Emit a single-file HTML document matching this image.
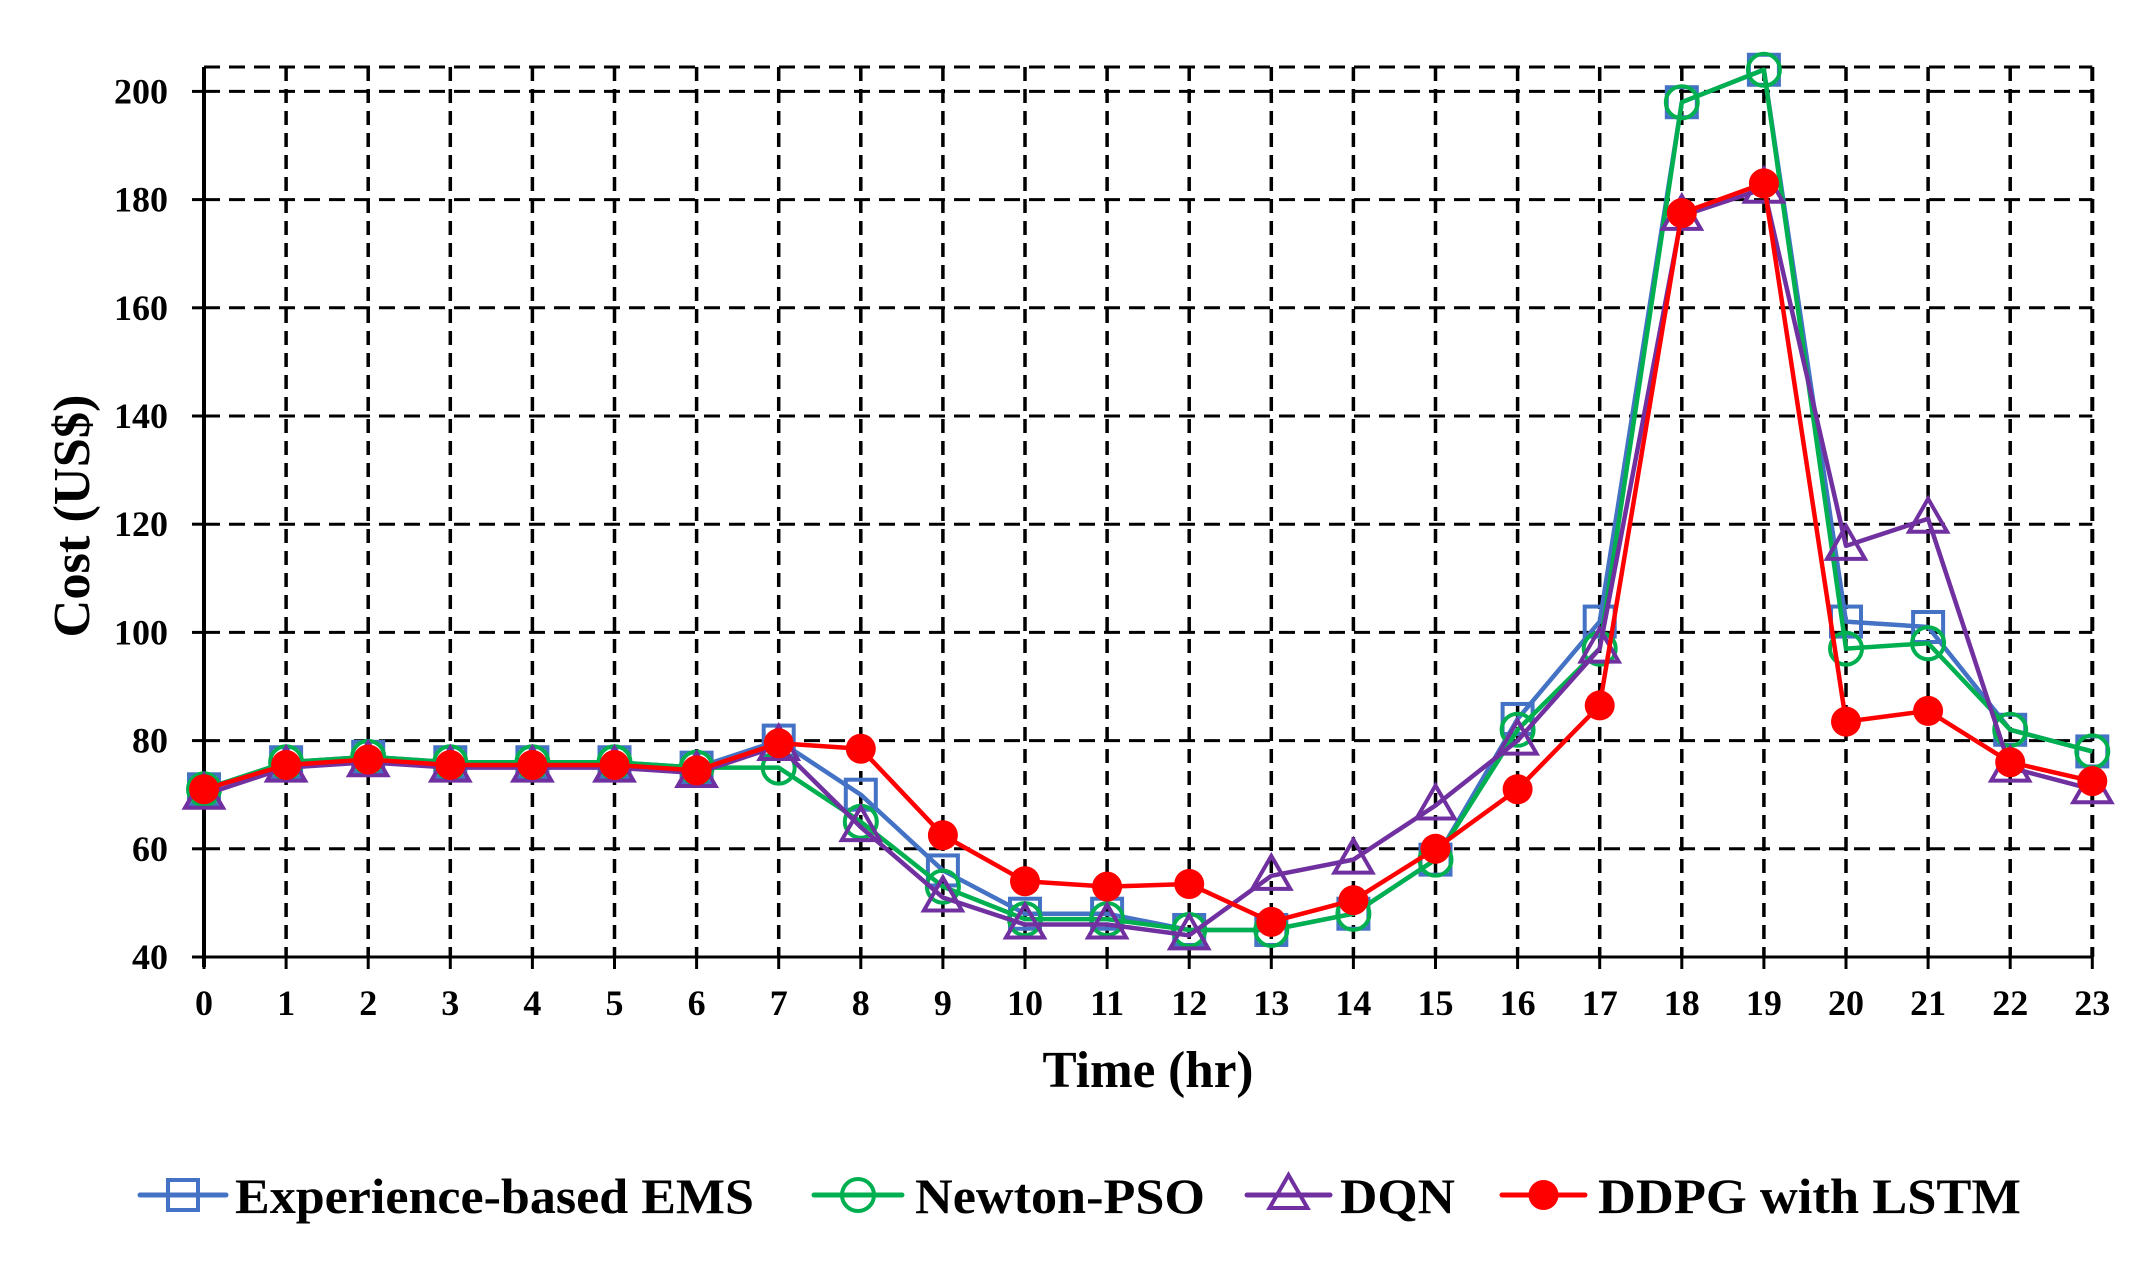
<!DOCTYPE html>
<html><head><meta charset="utf-8"><style>html,body{margin:0;padding:0;background:#fff}svg{display:block}text{font-family:"Liberation Serif",serif;font-weight:bold;fill:#000}</style></head>
<body>
<svg id="s" xmlns="http://www.w3.org/2000/svg" width="2143" height="1270" viewBox="0 0 2143 1270">
<g id="grid"></g>
<g id="series"></g>
<g id="labels"></g>
<text x="1148" y="1087" font-size="52" text-anchor="middle" textLength="211" lengthAdjust="spacingAndGlyphs">Time (hr)</text>
<text transform="translate(89,516) rotate(-90)" font-size="52" text-anchor="middle" textLength="243" lengthAdjust="spacingAndGlyphs">Cost (US$)</text>
<g id="legend"></g>
</svg>
<script>
(function(){
var NS="http://www.w3.org/2000/svg";
function el(p,t,a,txt){var e=document.createElementNS(NS,t);for(var k in a)e.setAttribute(k,a[k]);if(txt!==undefined)e.textContent=txt;p.appendChild(e);return e;}
var X0=204,DX=82.1,Y40=957,DY=5.41;
function X(i){return X0+i*DX;}function Y(v){return Y40-(v-40)*DY;}
var g=document.getElementById('grid'),L=document.getElementById('labels');
var TOP=67,BOT=Y(40),RIGHT=X(23);
for(var v=60;v<=200;v+=20){el(g,'line',{x1:X0,y1:Y(v),x2:RIGHT,y2:Y(v),stroke:'#000','stroke-width':3,'stroke-dasharray':'16,9'});}
el(g,'line',{x1:X0,y1:TOP,x2:RIGHT,y2:TOP,stroke:'#000','stroke-width':3,'stroke-dasharray':'16,9'});
for(var i=1;i<=23;i++){el(g,'line',{x1:X(i),y1:TOP,x2:X(i),y2:BOT,stroke:'#000','stroke-width':i==23?4:3.5,'stroke-dasharray':'14,8'});}
el(g,'line',{x1:X0,y1:TOP,x2:X0,y2:BOT+10,stroke:'#000','stroke-width':4});
el(g,'line',{x1:X0,y1:BOT,x2:RIGHT,y2:BOT,stroke:'#000','stroke-width':3});
for(var v=40;v<=200;v+=20){el(g,'line',{x1:X0-12,y1:Y(v),x2:X0,y2:Y(v),stroke:'#000','stroke-width':3});
 el(L,'text',{x:168,y:Y(v)+12,'font-size':36,'text-anchor':'end'},String(v));}
for(var i=0;i<=23;i++){el(g,'line',{x1:X(i),y1:BOT,x2:X(i),y2:BOT+12,stroke:'#000','stroke-width':3});
 el(L,'text',{x:X(i),y:1015,'font-size':36,'text-anchor':'middle'},String(i));}
var exp=[71,76,77,76,76,76,75,80,70,56,48,48,45,45,48,58,84,102,198,204,102,101,82,78];
var nwt=[71,76,77,76,76,76,75,75,65,53,47,47,45,45,48,58,82,97,198,204,97,98,82,78];
var dqn=[70,75,76,75,75,75,74,79,64,51,46,46,44,55,58,68,80,97,177,182,116,121,75,71];
var ddp=[71,75.5,76.5,75.5,75.5,75.5,74.5,79.5,78.5,62.5,54,53,53.5,46.5,50.5,60,71,86.5,177.5,183,83.5,85.5,76,72.5];
var S=document.getElementById('series');
function mk(p,type,x,y,c){
 if(type=='sq')el(p,'rect',{x:x-15,y:y-15,width:30,height:30,fill:'none',stroke:c,'stroke-width':4});
 else if(type=='ci')el(p,'circle',{cx:x,cy:y,r:16,fill:'none',stroke:c,'stroke-width':4});
 else if(type=='tr')el(p,'polygon',{points:(x)+','+(y-20)+' '+(x-19)+','+(y+13)+' '+(x+19)+','+(y+13),fill:'none',stroke:c,'stroke-width':4});
 else el(p,'circle',{cx:x,cy:y,r:15,fill:c});
}
function ser(d,c,type){var pts=d.map(function(v,i){return X(i)+','+Y(v);}).join(' ');
 el(S,'polyline',{points:pts,fill:'none',stroke:c,'stroke-width':4.5,'stroke-linejoin':'round'});
 d.forEach(function(v,i){mk(S,type,X(i),Y(v),c);});}
ser(exp,'#4472C4','sq');ser(nwt,'#00B050','ci');ser(dqn,'#7030A0','tr');ser(ddp,'#FF0000','dot');
var LG=document.getElementById('legend');
var items=[[140,226,235,519,'Experience-based EMS','#4472C4','sq'],[814,902,915,290,'Newton-PSO','#00B050','ci'],[1247,1330,1340,115,'DQN','#7030A0','tr'],[1502,1585,1598,423,'DDPG with LSTM','#FF0000','dot']];
items.forEach(function(it){var y=1195;el(LG,'line',{x1:it[0],y1:y,x2:it[1],y2:y,stroke:it[5],'stroke-width':5,'stroke-linecap':'round'});
 mk(LG,it[6],(it[0]+it[1])/2,y,it[5]);
 el(LG,'text',{x:it[2],y:1213,'font-size':50,textLength:it[3],lengthAdjust:'spacingAndGlyphs'},it[4]);});
})();
</script>
</body></html>
